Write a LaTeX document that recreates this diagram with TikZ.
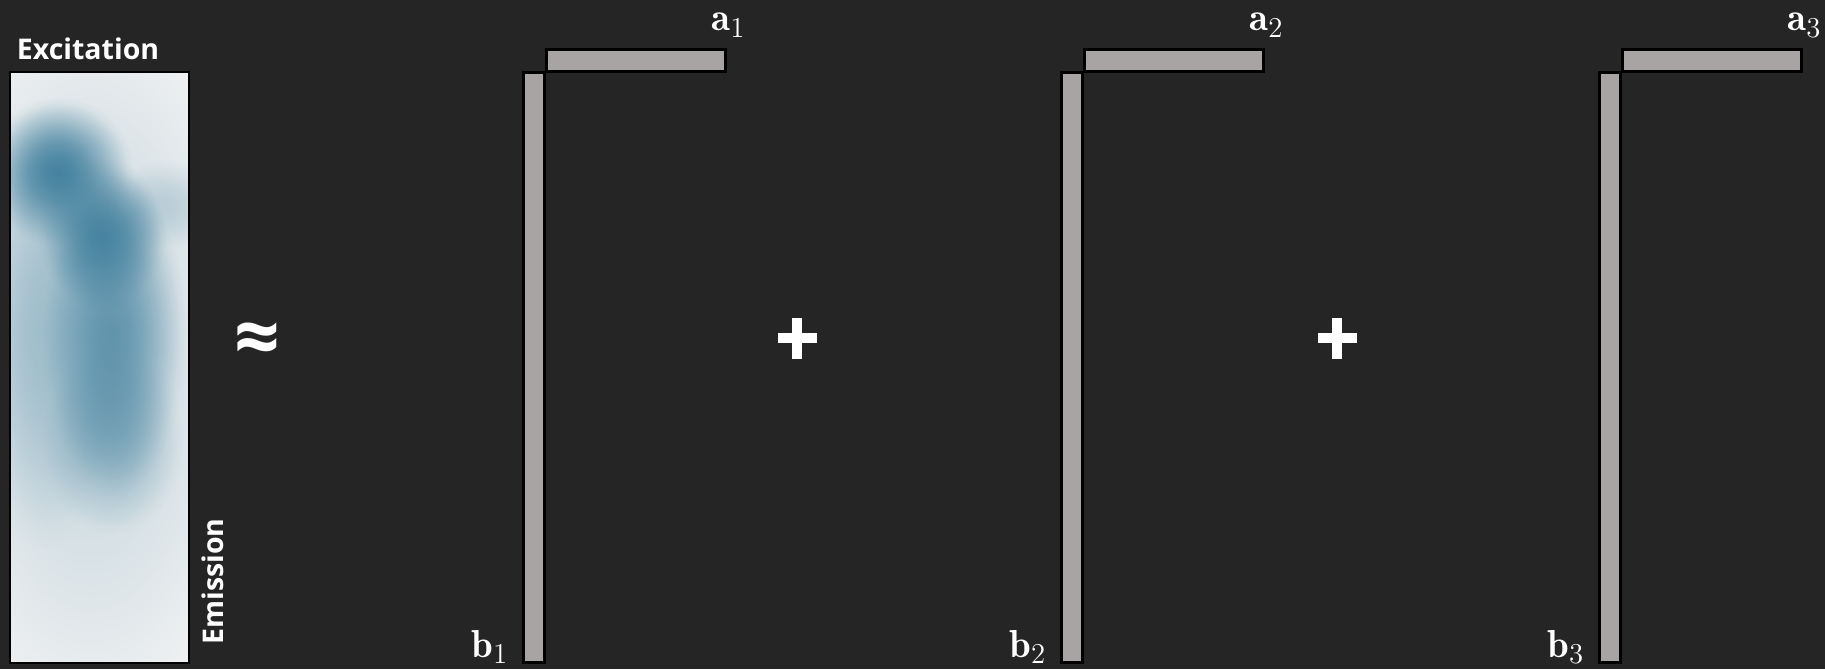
\documentclass[tikz,border=0pt]{standalone}
\usepackage{fontspec}
\usepackage{amsmath,bm}
\usepackage{xcolor}
\usepackage{tikz}
\usetikzlibrary{fadings}

\newfontfamily\labelfont{Open Sans}

\definecolor{canvas}{HTML}{252525}
\definecolor{barfill}{HTML}{A8A4A4}
\definecolor{panelbg}{HTML}{EEF0F1}
\definecolor{heat}{HTML}{3E7E9C}

% soft round blob, opaque in the middle, gone at the rim
\pgfdeclareradialshading{blobshade}{\pgfpointorigin}{%
  color(0bp)=(white); color(5bp)=(white!92!black); color(10bp)=(white!75!black);
  color(15bp)=(white!50!black); color(20bp)=(white!22!black); color(23bp)=(white!6!black);
  color(25bp)=(black); color(50bp)=(black)}
\pgfdeclarefading{blobfade}{\pgfuseshading{blobshade}}

\begin{document}
\begin{tikzpicture}[x=0.5pt,y=-0.5pt]

  % ── canvas ──────────────────────────────────────────────────────────
  \fill[canvas] (0,0) rectangle (1825,669);
  \useasboundingbox (0,0) rectangle (1825,669);

  % ── the measured map, a blurred blue blob ───────────────────────────
  \fill[panelbg] (10,72) rectangle (189,663);
  \begin{scope}
    \clip (10,72) rectangle (189,663);
    \fill[heat!60!panelbg, path fading=blobfade, fill opacity=0.35] (90,360) ellipse (170 and 360);
    \fill[heat!85!panelbg, path fading=blobfade, fill opacity=0.40] (45,330) ellipse (75 and 220);
    \fill[heat, path fading=blobfade, fill opacity=0.75] (114,335) ellipse (72 and 160);
    \fill[heat, path fading=blobfade, fill opacity=0.40] (112,440) ellipse (72 and 95);
    \fill[heat, path fading=blobfade, fill opacity=0.95] (58,172) ellipse (75 and 75);
    \fill[heat, path fading=blobfade, fill opacity=0.90] (102,235) ellipse (64 and 76);
    \fill[heat, path fading=blobfade, fill opacity=0.22] (165,205) ellipse (60 and 45);
  \end{scope}
  \draw[black, line width=1.25pt] (10,72) rectangle (189,663);

  \node[font=\labelfont\bfseries\fontsize{14.25}{16}\selectfont, text=white, anchor=base west, inner sep=0pt]
        (excit) at (16.5,59) {Excitation};
  \node[font=\labelfont\bfseries\fontsize{14.25}{16}\selectfont, text=white, anchor=base west, inner sep=0pt, rotate=90]
        (emiss) at (223,645) {Emission};

  \node[font=\labelfont\bfseries\fontsize{40}{40}\selectfont, text=white, inner sep=0pt]
        (approx) at (257,344) {≈};

  % ── the three rank-one factors ──────────────────────────────────────
  \foreach \k [evaluate=\k as \x using {522+538*(\k-1)}] in {1,2,3} {
    \filldraw[fill=barfill, draw=black, line width=1.5pt] (\x+1.5,72.5) rectangle (\x+22.5,662.5);
    \filldraw[fill=barfill, draw=black, line width=1.5pt] (\x+24.5,49.5) rectangle (\x+203.5,71.5);
    \node[font=\fontsize{19.5}{22}\selectfont, text=white, anchor=base west, inner sep=0pt]
          (a\k) at (\x+189,31) {$\mathbf{a}_{\k}$};
    \node[font=\fontsize{19.5}{22}\selectfont, text=white, anchor=base west, inner sep=0pt]
          (b\k) at (\x-51,657) {$\mathbf{b}_{\k}$};
  }

  % ── plus signs between the factors ──────────────────────────────────
  \foreach \x in {797,1337} {
    \fill[white] (\x-19.5,333) rectangle (\x+19.5,343);
    \fill[white] (\x-5,318) rectangle (\x+5,359);
  }

\end{tikzpicture}
\end{document}
